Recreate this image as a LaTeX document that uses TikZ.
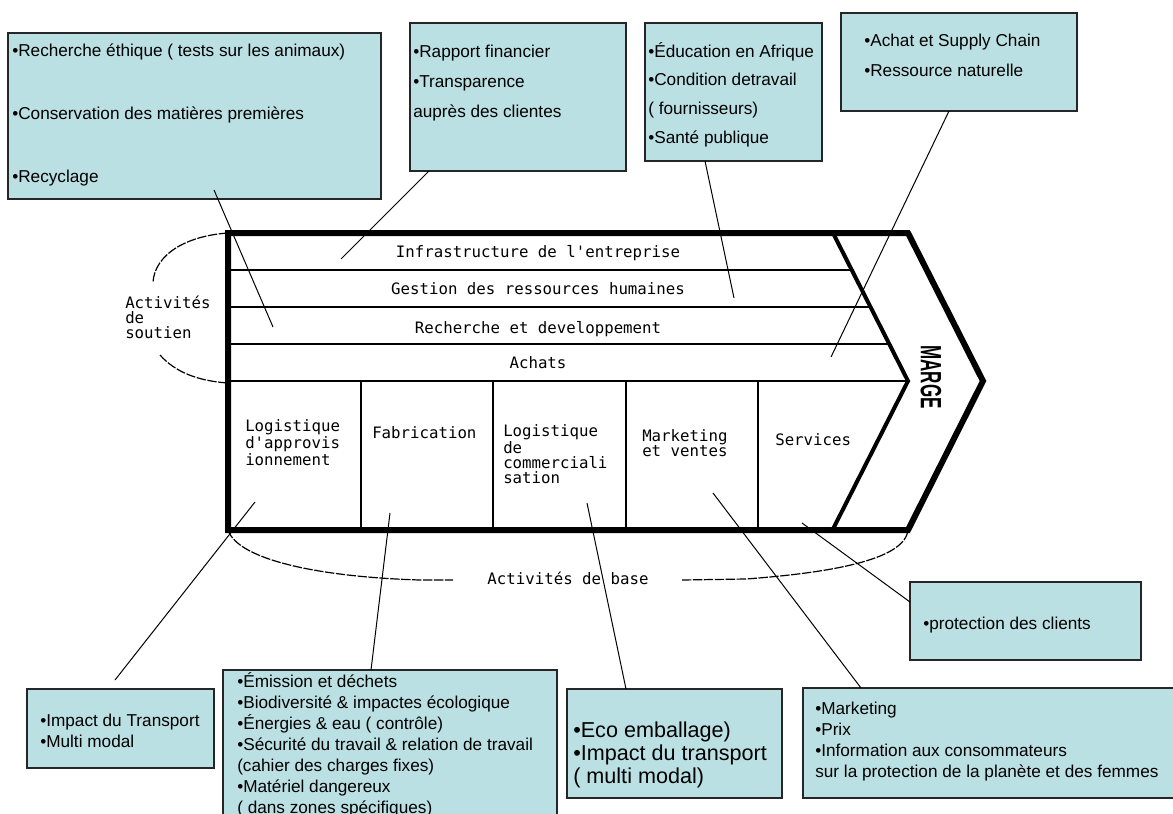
\documentclass[tikz,border=0pt]{standalone}
\usepackage{fontspec}
\setmainfont{Liberation Sans}
\newfontfamily\chainfont{DejaVu Sans Mono}
\usepackage{xcolor}
\usepackage{tikz}
\usetikzlibrary{calc}
\definecolor{notefill}{RGB}{187,224,227}
\tikzset{
  notebox/.style={draw=black!85, line width=1.1pt, fill=notefill, inner sep=0pt, outer sep=0pt, anchor=north west},
  box size/.style 2 args={minimum width=#1*0.75pt, minimum height=#2*0.75pt},
  notetext/.style={inner sep=0pt, anchor=base west, align=left, font=\fontsize{12.9}{#1}\selectfont},
  chainlabel/.style={inner sep=0pt, anchor=base west, align=left, font=\chainfont\fontsize{11.8}{11.25}\selectfont},
  rowline/.style={line width=1.1pt},
  colline/.style={line width=1.5pt},
  callout/.style={line width=0.75pt},
  bracearc/.style={line width=0.9pt, dash pattern=on 7pt off 1.2pt},
}

\begin{document}
\begin{tikzpicture}[x=0.75pt,y=-0.75pt]
            \useasboundingbox (0,0) rectangle (1173,813);
            \fill[white] (0,0) rectangle (1173,813);
            \clip (0,0) rectangle (1173,813);

            \coordinate (top-left) at (228,233);
            \coordinate (bot-left) at (228,530);
            \coordinate (in-top) at (833,233);
            \coordinate (in-tip) at (908,381);
            \coordinate (in-bot) at (833,529);
            \coordinate (out-top) at (908,233);
            \coordinate (out-tip) at (983,381);
            \coordinate (out-bot) at (908,530);

            \foreach \f in {0.25,0.5,0.75}
                \draw[rowline] (228,{233+148*\f}) -- ($(in-top)!\f!(in-tip)$);
            \draw[colline] (228,381) -- (in-tip);
            \foreach \x in {361,493,626,758}
                \draw[colline] (\x,381) -- (\x,530);
            \draw[line width=3pt] (in-top) -- (in-tip) -- (in-bot);
            \draw[line width=4.5pt, line join=miter] (top-left) -- (out-top) -- (out-tip) -- (out-bot) -- (bot-left) -- cycle;

            \node[chainlabel, anchor=base] (infra) at (538,257) {Infrastructure de l'entreprise};
            \node[chainlabel, anchor=base] (grh) at (538,294) {Gestion des ressources humaines};
            \node[chainlabel, anchor=base] (rd) at (538,333) {Recherche et developpement};
            \node[chainlabel, anchor=base] (achats) at (538,368) {Achats};
            \node[chainlabel] (appro) at (245,465) {Logistique\\d'approvis\\ionnement};
            \node[chainlabel] (fabric) at (372,438) {Fabrication};
            \node[chainlabel] (logcom) at (503,483) {Logistique\\de\\commerciali\\sation};
            \node[chainlabel] (mktv) at (642,456) {Marketing\\et ventes};
            \node[chainlabel] (serv) at (775,445) {Services};
            \node[chainlabel] (soutien) at (125,338) {Activités\\de\\soutien};
            \node[chainlabel, anchor=base] (base) at (568,584) {Activités de base};
            \node[rotate=-90, inner sep=0pt, font=\fontsize{22}{22}\selectfont\bfseries] (marge) at (931,377) {\scalebox{0.58}[1]{MARGE}};

            \draw[bracearc] (top-left) .. controls (185,236) and (155,255) .. (153,282);
            \draw[bracearc] (160,355) .. controls (175,372) and (198,381) .. (228,383);
            \draw[bracearc] (bot-left) .. controls (238,560) and (320,577) .. (420,580) -- (453,580);
            \draw[bracearc] (682,580) -- (746,579) .. controls (840,572) and (905,558) .. (out-bot);

            \node[notebox, box size={373}{166}] (rdbox) at (8,33) {};
            \node[notebox, box size={216}{148}] (finbox) at (410,23) {};
            \node[notebox, box size={177}{138}] (socbox) at (645,23) {};
            \node[notebox, box size={236}{98}] (achbox) at (841,13) {};
            \node[notebox, box size={231}{78}] (clientbox) at (910,582) {};
            \node[notebox, box size={187}{79}] (transbox) at (27,689) {};
            \node[notebox, box size={334}{160}] (prodbox) at (223,670) {};
            \node[notebox, box size={215}{109}] (ecobox) at (567,689) {};
            \node[notebox, box size={380}{110}] (mktbox) at (803,688) {};

            \node[notetext=46.9] (rdtext) at (12,182) {•Recherche éthique ( tests sur les animaux)\\•Conservation des matières premières\\•Recyclage};
            \node[notetext=22.5] (fintext) at (413,118) {•Rapport financier\\•Transparence\\auprès des clientes};
            \node[notetext=21.4] (soctext) at (648,143) {•Éducation en Afrique\\•Condition detravail\\( fournisseurs)\\•Santé publique};
            \node[notetext=22.5] (achtext) at (864,77) {•Achat et Supply Chain\\•Ressource naturelle};
            \node[notetext=15.75] (clienttext) at (923,629) {•protection des clients};
            \node[notetext=15.5] (transtext) at (40,747) {•Impact du Transport\\•Multi modal};
            \node[notetext=15.75] (prodtext) at (237,813) {•Émission et déchets\\•Biodiversité \& impactes écologique\\•Énergies \& eau ( contrôle)\\•Sécurité du travail \& relation de travail\\(cahier des charges fixes)\\•Matériel dangereux\\( dans zones spécifiques)};
            \node[notetext=16.9, font=\fontsize{16.2}{16.9}\selectfont] (ecotext) at (573,783) {•Eco emballage)\\•Impact du transport\\( multi modal)};
            \node[notetext=15.75] (mkttext) at (815,777) {•Marketing\\•Prix\\•Information aux consommateurs\\sur la protection de la planète et des femmes};

            \coordinate (rd-pt) at (273,327);
            \coordinate (infra-pt) at (341,259);
            \coordinate (grh-pt) at (734,298);
            \coordinate (achat-pt) at (831,357);
            \coordinate (appro-pt) at (255,502);
            \coordinate (fab-pt) at (390,513);
            \coordinate (com-pt) at (587,503);
            \coordinate (mkt-pt) at (713,493);
            \coordinate (serv-pt) at (802,523);

            \draw[callout] ($(rdbox.south west)+(206,-9)$) -- (rd-pt);
            \draw[callout] ($(finbox.south west)+(19,0)$) -- (infra-pt);
            \draw[callout] ($(socbox.south west)+(60,0)$) -- (grh-pt);
            \draw[callout] ($(achbox.south west)+(108,0)$) -- (achat-pt);
            \draw[callout] (appro-pt) -- ($(transbox.north west)+(88,-9)$);
            \draw[callout] (fab-pt) -- ($(prodbox.north west)+(148,0)$);
            \draw[callout] (com-pt) -- ($(ecobox.north west)+(59,0)$);
            \draw[callout] (mkt-pt) -- ($(mktbox.north west)+(58,0)$);
            \draw[callout] (serv-pt) -- ($(clientbox.north west)+(0,20)$);
        \end{tikzpicture}
\end{document}
